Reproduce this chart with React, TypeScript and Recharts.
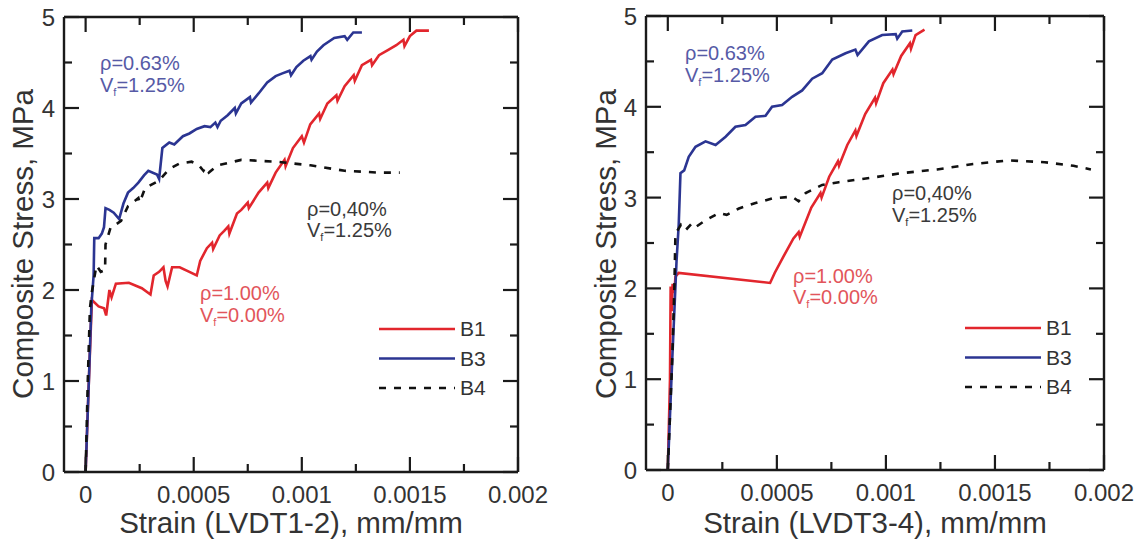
import React from 'react';
import { LineChart, Line, XAxis, YAxis, Legend } from 'recharts';

// strain values are in units of 10^-3 mm/mm, stress in MPa

// left panel, LVDT1-2
const b1LeftStrain = [0, 0.015, 0.029, 0.06, 0.085, 0.095, 0.11, 0.12, 0.14, 0.2, 0.26, 0.3, 0.315, 0.34, 0.36, 0.37, 0.379, 0.4, 0.435, 0.48, 0.514, 0.53, 0.561, 0.585, 0.59, 0.62, 0.641, 0.66, 0.665, 0.7, 0.72, 0.75, 0.755, 0.8, 0.84, 0.845, 0.879, 0.92, 0.925, 0.959, 1.0, 1.01, 1.039, 1.08, 1.085, 1.118, 1.16, 1.165, 1.198, 1.24, 1.245, 1.278, 1.32, 1.325, 1.357, 1.4, 1.437, 1.47, 1.475, 1.5, 1.53, 1.588];
const b1LeftStress = [0, 1.0, 1.89, 1.82, 1.8, 1.72, 2.0, 1.92, 2.07, 2.08, 2.02, 1.95, 2.16, 2.2, 2.25, 2.1, 2.04, 2.25, 2.25, 2.2, 2.16, 2.32, 2.46, 2.52, 2.45, 2.6, 2.65, 2.7, 2.62, 2.84, 2.88, 2.96, 2.9, 3.07, 3.18, 3.12, 3.29, 3.43, 3.36, 3.56, 3.69, 3.62, 3.82, 3.94, 3.88, 4.05, 4.14, 4.08, 4.24, 4.36, 4.3, 4.47, 4.53, 4.47, 4.58, 4.64, 4.69, 4.75, 4.68, 4.79, 4.85, 4.85];

const b3LeftStrain = [0, 0.015, 0.0265, 0.037, 0.04, 0.06, 0.075, 0.085, 0.092, 0.11, 0.13, 0.155, 0.175, 0.196, 0.22, 0.244, 0.27, 0.29, 0.33, 0.34, 0.355, 0.387, 0.41, 0.45, 0.48, 0.514, 0.55, 0.577, 0.6, 0.61, 0.625, 0.657, 0.69, 0.695, 0.72, 0.76, 0.765, 0.8, 0.84, 0.879, 0.91, 0.943, 0.95, 0.975, 1.007, 1.04, 1.045, 1.07, 1.1, 1.15, 1.198, 1.21, 1.238, 1.278];
const b3LeftStress = [0, 1.0, 1.82, 2.16, 2.57, 2.57, 2.62, 2.69, 2.9, 2.88, 2.85, 2.78, 2.95, 3.07, 3.12, 3.18, 3.26, 3.31, 3.27, 3.22, 3.56, 3.62, 3.6, 3.69, 3.72, 3.77, 3.8, 3.79, 3.84, 3.79, 3.86, 3.92, 4.0, 3.94, 4.05, 4.12, 4.06, 4.16, 4.28, 4.35, 4.38, 4.41, 4.36, 4.45, 4.52, 4.57, 4.53, 4.62, 4.69, 4.77, 4.79, 4.75, 4.83, 4.83];

const b4LeftStrain = [0, 0.01, 0.02, 0.029, 0.05, 0.07, 0.09, 0.092, 0.116, 0.14, 0.164, 0.196, 0.244, 0.25, 0.275, 0.339, 0.387, 0.435, 0.49, 0.52, 0.545, 0.555, 0.57, 0.61, 0.72, 0.88, 1.04, 1.198, 1.357, 1.453];
const b4LeftStress = [0, 1.0, 1.8, 1.98, 2.27, 2.2, 2.22, 2.5, 2.69, 2.72, 2.76, 2.92, 3.01, 2.96, 3.12, 3.2, 3.33, 3.39, 3.41, 3.38, 3.31, 3.35, 3.29, 3.37, 3.43, 3.41, 3.37, 3.31, 3.29, 3.29];

// right panel, LVDT3-4
const b1RightStrain = [0, 0.01, 0.013, 0.018, 0.022, 0.03, 0.035, 0.05, 0.469, 0.49, 0.53, 0.576, 0.6, 0.605, 0.658, 0.7, 0.705, 0.74, 0.78, 0.785, 0.823, 0.86, 0.865, 0.905, 0.95, 0.955, 0.988, 1.03, 1.035, 1.07, 1.11, 1.115, 1.136, 1.177];
const b1RightStress = [0, 1.0, 2.02, 1.75, 2.05, 1.95, 2.13, 2.17, 2.06, 2.17, 2.35, 2.55, 2.62, 2.57, 2.89, 3.05, 3.0, 3.23, 3.4, 3.35, 3.58, 3.74, 3.68, 3.92, 4.1, 4.04, 4.26, 4.41, 4.36, 4.56, 4.7, 4.64, 4.79, 4.85];

const b3RightStrain = [0, 0.02, 0.04, 0.05, 0.058, 0.075, 0.096, 0.127, 0.173, 0.219, 0.265, 0.31, 0.356, 0.402, 0.448, 0.478, 0.524, 0.57, 0.616, 0.662, 0.708, 0.754, 0.815, 0.86, 0.87, 0.922, 0.983, 1.045, 1.052, 1.075, 1.121];
const b3RightStress = [0, 1.2, 2.3, 2.7, 3.27, 3.3, 3.45, 3.56, 3.62, 3.58, 3.67, 3.78, 3.8, 3.89, 3.9, 4.0, 4.02, 4.11, 4.18, 4.31, 4.37, 4.52, 4.59, 4.63, 4.57, 4.72, 4.79, 4.8, 4.75, 4.83, 4.84];

const b4RightStrain = [0, 0.02, 0.03, 0.035, 0.06, 0.081, 0.112, 0.13, 0.173, 0.234, 0.27, 0.326, 0.402, 0.478, 0.57, 0.6, 0.632, 0.708, 0.784, 0.937, 1.075, 1.235, 1.4, 1.564, 1.728, 1.86, 1.94];
const b4RightStress = [0, 1.2, 2.0, 2.6, 2.7, 2.64, 2.72, 2.68, 2.75, 2.83, 2.81, 2.88, 2.94, 2.99, 3.01, 2.96, 3.05, 3.14, 3.17, 3.22, 3.27, 3.31, 3.37, 3.41, 3.39, 3.35, 3.31];

const strainTicks = [0, 0.25, 0.5, 0.75, 1, 1.25, 1.5, 1.75, 2];
const strainMajor = [0, 0.5, 1, 1.5, 2];
const strainLabels = ['0', '0.0005', '0.001', '0.0015', '0.002'];
const stressTicks = [0, 0.5, 1, 1.5, 2, 2.5, 3, 3.5, 4, 4.5, 5];
const stressMajor = [0, 1, 2, 3, 4, 5];

const RED = '#e2262d';
const BLUE = '#2b3592';
const BLACK = '#111111';
const AXIS = '#1a1a1a';
const FONT = '"Liberation Sans", Arial, Helvetica, sans-serif';

const MAJOR_LEN = 15;
const MINOR_LEN = 8;
const TICK_FONT = 24;

const series = [
  { name: 'B1', color: RED, dash: undefined as string | undefined },
  { name: 'B3', color: BLUE, dash: undefined as string | undefined },
  { name: 'B4', color: BLACK, dash: '7 8' },
];

const toPoints = (xs: number[], ys: number[]) => xs.map((x, i) => ({ strain: x, stress: ys[i] }));

const majorIndex = (v: number, majors: number[]) => majors.findIndex((m) => Math.abs(m - v) < 1e-9);

const BottomTick = (props: any) => {
  const { x, y, payload } = props;
  const idx = majorIndex(payload.value, strainMajor);
  return (
    <g>
      <line x1={x} y1={y} x2={x} y2={y - (idx >= 0 ? MAJOR_LEN : MINOR_LEN)} stroke={AXIS} strokeWidth={2.2} />
      {idx >= 0 && (
        <text x={x} y={y + 31} textAnchor="middle" fontSize={TICK_FONT} fill="#333" fontFamily={FONT}>
          {strainLabels[idx]}
        </text>
      )}
    </g>
  );
};

const TopTick = (props: any) => {
  const { x, y, payload } = props;
  const major = majorIndex(payload.value, strainMajor) >= 0;
  return <line x1={x} y1={y} x2={x} y2={y + (major ? MAJOR_LEN : MINOR_LEN)} stroke={AXIS} strokeWidth={2.2} />;
};

const LeftTick = (props: any) => {
  const { x, y, payload } = props;
  const major = majorIndex(payload.value, stressMajor) >= 0;
  return (
    <g>
      <line x1={x} y1={y} x2={x + (major ? MAJOR_LEN : MINOR_LEN)} y2={y} stroke={AXIS} strokeWidth={2.2} />
      {major && (
        <text x={x - 9} y={y + 9} textAnchor="end" fontSize={TICK_FONT} fill="#333" fontFamily={FONT}>
          {payload.value}
        </text>
      )}
    </g>
  );
};

const RightTick = (props: any) => {
  const { x, y, payload } = props;
  const major = majorIndex(payload.value, stressMajor) >= 0;
  return <line x1={x} y1={y} x2={x - (major ? MAJOR_LEN : MINOR_LEN)} y2={y} stroke={AXIS} strokeWidth={2.2} />;
};

const LegendBox = () => (
  <svg width={120} height={84} style={{ display: 'block' }}>
    {series.map((s, i) => (
      <g key={s.name}>
        <line x1={0} x2={76} y1={11 + i * 29.5} y2={11 + i * 29.5} stroke={s.color} strokeWidth={2.6} strokeDasharray={s.dash} />
        <text x={81} y={18 + i * 29.5} fontSize={21} fill="#333" fontFamily={FONT}>
          {s.name}
        </text>
      </g>
    ))}
  </svg>
);

const Vf = ({ x, y, value, color }: { x: number; y: number; value: string; color: string }) => (
  <text x={x} y={y} fontSize={20} fill={color} fontFamily={FONT}>
    V<tspan fontSize={11} dy={4}>f</tspan>
    <tspan dy={-4}>{value}</tspan>
  </text>
);

interface PanelProps {
  left: number;
  width: number;
  margin: { top: number; right: number; bottom: number; left: number };
  b1: { strain: number; stress: number }[];
  b3: { strain: number; stress: number }[];
  b4: { strain: number; stress: number }[];
  legendPos: { left: number; top: number };
}

const Panel = ({ left, width, margin, b1, b3, b4, legendPos }: PanelProps) => (
  <div style={{ position: 'absolute', left, top: 0 }}>
    <LineChart width={width} height={540} margin={margin}>
      <XAxis
        xAxisId="bottom"
        dataKey="strain"
        type="number"
        domain={[-0.1, 2]}
        allowDataOverflow
        ticks={strainTicks}
        interval={0}
        height={1}
        tickSize={0}
        tickMargin={0}
        tickLine={false}
        axisLine={{ stroke: AXIS, strokeWidth: 2.4 }}
        tick={BottomTick}
      />
      <XAxis
        xAxisId="top"
        orientation="top"
        dataKey="strain"
        type="number"
        domain={[-0.1, 2]}
        allowDataOverflow
        ticks={strainTicks}
        interval={0}
        height={1}
        tickSize={0}
        tickMargin={0}
        tickLine={false}
        axisLine={{ stroke: AXIS, strokeWidth: 2.4 }}
        tick={TopTick}
      />
      <YAxis
        yAxisId="left"
        type="number"
        domain={[0, 5]}
        allowDataOverflow
        ticks={stressTicks}
        interval={0}
        width={1}
        tickSize={0}
        tickMargin={0}
        tickLine={false}
        axisLine={{ stroke: AXIS, strokeWidth: 2.4 }}
        tick={LeftTick}
      />
      <YAxis
        yAxisId="right"
        orientation="right"
        type="number"
        domain={[0, 5]}
        allowDataOverflow
        ticks={stressTicks}
        interval={0}
        width={1}
        tickSize={0}
        tickMargin={0}
        tickLine={false}
        axisLine={{ stroke: AXIS, strokeWidth: 2.4 }}
        tick={RightTick}
      />
      <Legend
        layout="vertical"
        align="center"
        verticalAlign="middle"
        content={LegendBox}
        wrapperStyle={{ left: legendPos.left, top: legendPos.top, width: 120, height: 84 }}
      />
      <Line
        xAxisId="bottom"
        yAxisId="left"
        data={b1}
        dataKey="stress"
        name="B1"
        type="linear"
        stroke={RED}
        strokeWidth={2.6}
        dot={false}
        isAnimationActive={false}
      />
      <Line
        xAxisId="bottom"
        yAxisId="left"
        data={b3}
        dataKey="stress"
        name="B3"
        type="linear"
        stroke={BLUE}
        strokeWidth={2.6}
        dot={false}
        isAnimationActive={false}
      />
      <Line
        xAxisId="bottom"
        yAxisId="left"
        data={b4}
        dataKey="stress"
        name="B4"
        type="linear"
        stroke={BLACK}
        strokeWidth={2.6}
        strokeDasharray="7 8"
        dot={false}
        isAnimationActive={false}
      />
      {/* keep top/right frame axes bound to a series so they render */}
      <Line
        xAxisId="top"
        yAxisId="right"
        data={b4}
        dataKey="stress"
        stroke="none"
        strokeWidth={0}
        dot={false}
        legendType="none"
        isAnimationActive={false}
      />
    </LineChart>
  </div>
);

const BLUE_TEXT = '#565aa6';
const RED_TEXT = '#e2555b';
const BLACK_TEXT = '#3a3a3a';

export default function App() {
  return (
    <div style={{ position: 'absolute', left: 0, top: 0, width: 1142, height: 540, background: '#fff', fontFamily: FONT }}>
      <Panel
        left={0}
        width={570}
        margin={{ top: 16, left: 63, right: 51, bottom: 67 }}
        b1={toPoints(b1LeftStrain, b1LeftStress)}
        b3={toPoints(b3LeftStrain, b3LeftStress)}
        b4={toPoints(b4LeftStrain, b4LeftStress)}
        legendPos={{ left: 379, top: 318 }}
      />
      <Panel
        left={575}
        width={567}
        margin={{ top: 15, left: 70, right: 37, bottom: 69 }}
        b1={toPoints(b1RightStrain, b1RightStress)}
        b3={toPoints(b3RightStrain, b3RightStress)}
        b4={toPoints(b4RightStrain, b4RightStress)}
        legendPos={{ left: 390, top: 317 }}
      />
      <svg width={1142} height={540} style={{ position: 'absolute', left: 0, top: 0, pointerEvents: 'none' }}>
        <g fontFamily={FONT}>
          <text transform="translate(33,244) rotate(-90)" textAnchor="middle" fontSize={29.5} fill="#333">
            Composite Stress, MPa
          </text>
          <text x={291} y={533} textAnchor="middle" fontSize={29.5} fill="#333">
            Strain (LVDT1-2), mm/mm
          </text>
          <text transform="translate(616,244) rotate(-90)" textAnchor="middle" fontSize={29.5} fill="#333">
            Composite Stress, MPa
          </text>
          <text x={875} y={533} textAnchor="middle" fontSize={29.5} fill="#333">
            Strain (LVDT3-4), mm/mm
          </text>

          <text x={100} y={70} fontSize={20} fill={BLUE_TEXT}>ρ=0.63%</text>
          <Vf x={100} y={92} value="=1.25%" color={BLUE_TEXT} />
          <text x={307} y={216} fontSize={20} fill={BLACK_TEXT}>ρ=0,40%</text>
          <Vf x={307} y={237} value="=1.25%" color={BLACK_TEXT} />
          <text x={200} y={300} fontSize={20} fill={RED_TEXT}>ρ=1.00%</text>
          <Vf x={200} y={322} value="=0.00%" color={RED_TEXT} />

          <text x={685} y={60} fontSize={20} fill={BLUE_TEXT}>ρ=0.63%</text>
          <Vf x={685} y={82} value="=1.25%" color={BLUE_TEXT} />
          <text x={892} y={200} fontSize={20} fill={BLACK_TEXT}>ρ=0,40%</text>
          <Vf x={892} y={222} value="=1.25%" color={BLACK_TEXT} />
          <text x={793} y={283} fontSize={20} fill={RED_TEXT}>ρ=1.00%</text>
          <Vf x={793} y={304} value="=0.00%" color={RED_TEXT} />
        </g>
      </svg>
    </div>
  );
}
